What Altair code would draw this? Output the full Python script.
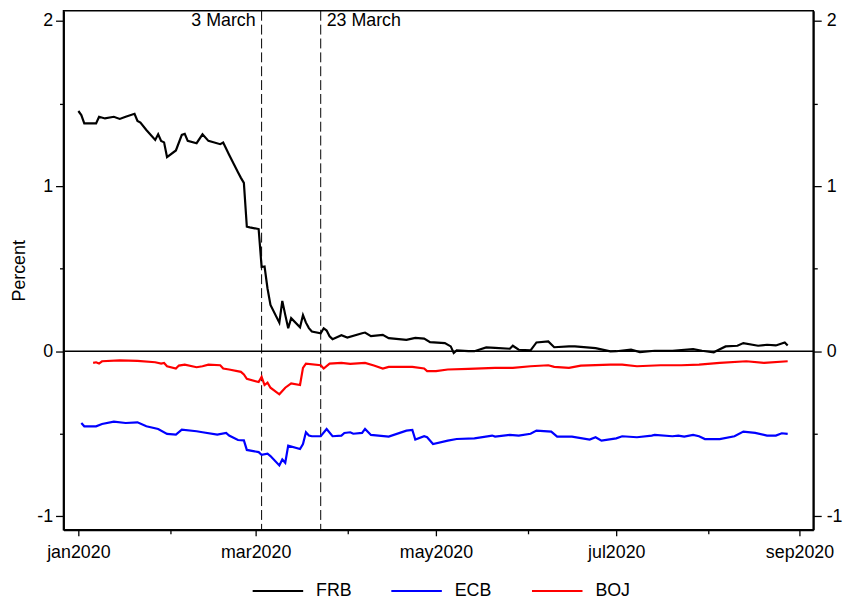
import altair as alt
import pandas as pd

# ---------------- data ----------------
frb_dates = ["2020-01-01", "2020-01-02", "2020-01-03", "2020-01-06", "2020-01-07", "2020-01-08",
             "2020-01-10", "2020-01-13", "2020-01-15", "2020-01-17", "2020-01-20", "2020-01-21",
             "2020-01-22", "2020-01-24", "2020-01-27", "2020-01-28", "2020-01-29", "2020-01-30",
             "2020-01-31", "2020-02-03", "2020-02-05", "2020-02-06", "2020-02-07", "2020-02-10",
             "2020-02-12", "2020-02-14", "2020-02-18", "2020-02-19", "2020-02-21", "2020-02-24",
             "2020-02-25", "2020-02-26", "2020-02-27", "2020-02-28", "2020-03-02", "2020-03-03",
             "2020-03-04", "2020-03-05", "2020-03-06", "2020-03-09", "2020-03-10", "2020-03-11",
             "2020-03-12", "2020-03-13", "2020-03-16", "2020-03-17", "2020-03-18", "2020-03-19",
             "2020-03-20", "2020-03-23", "2020-03-24", "2020-03-25", "2020-03-26", "2020-03-27",
             "2020-03-30", "2020-04-01", "2020-04-06", "2020-04-07", "2020-04-09", "2020-04-13",
             "2020-04-15", "2020-04-21", "2020-04-24", "2020-04-27", "2020-04-29", "2020-05-04",
             "2020-05-06", "2020-05-07", "2020-05-08", "2020-05-12", "2020-05-14", "2020-05-18",
             "2020-05-21", "2020-05-26", "2020-05-27", "2020-05-29", "2020-06-02", "2020-06-04",
             "2020-06-08", "2020-06-10", "2020-06-15", "2020-06-17", "2020-06-24", "2020-06-29",
             "2020-07-01", "2020-07-06", "2020-07-09", "2020-07-14", "2020-07-20", "2020-07-27",
             "2020-07-30", "2020-08-03", "2020-08-04", "2020-08-07", "2020-08-11", "2020-08-13",
             "2020-08-18", "2020-08-21", "2020-08-24", "2020-08-27", "2020-08-28"]
frb_vals = [1.455, 1.43, 1.38, 1.38, 1.38, 1.42,
            1.41, 1.42, 1.407, 1.42, 1.438, 1.395,
            1.385, 1.34, 1.28, 1.314, 1.274, 1.265,
            1.176, 1.216, 1.31, 1.317, 1.274, 1.26,
            1.314, 1.274, 1.254, 1.264, 1.19, 1.084,
            1.05, 1.02, 0.754, 0.75, 0.74, 0.51,
            0.513, 0.38, 0.28, 0.173, 0.305, 0.22,
            0.139, 0.2, 0.145, 0.219, 0.173, 0.14,
            0.119, 0.109, 0.139, 0.125, 0.09, 0.073,
            0.097, 0.083, 0.109, 0.113, 0.091, 0.099,
            0.079, 0.069, 0.081, 0.076, 0.055, 0.049,
            0.029, -0.011, 0.005, 0.0, 0.0, 0.023,
            0.02, 0.015, 0.033, 0.009, 0.005, 0.053,
            0.059, 0.024, 0.029, 0.029, 0.019, -0.001,
            0.0, 0.009, -0.005, 0.003, 0.003, 0.013,
            0.003, -0.007, 0.003, 0.029, 0.033, 0.049,
            0.033, 0.039, 0.035, 0.053, 0.035]

ecb_dates = ["2020-01-02", "2020-01-03", "2020-01-07", "2020-01-09", "2020-01-13", "2020-01-17",
             "2020-01-21", "2020-01-24", "2020-01-28", "2020-01-31", "2020-02-03", "2020-02-05",
             "2020-02-10", "2020-02-12", "2020-02-17", "2020-02-20", "2020-02-21", "2020-02-24",
             "2020-02-26", "2020-02-27", "2020-03-02", "2020-03-03", "2020-03-05", "2020-03-06",
             "2020-03-09", "2020-03-10", "2020-03-11", "2020-03-12", "2020-03-16", "2020-03-17",
             "2020-03-18", "2020-03-19", "2020-03-20", "2020-03-23", "2020-03-25", "2020-03-27",
             "2020-03-30", "2020-03-31", "2020-04-02", "2020-04-03", "2020-04-06", "2020-04-07",
             "2020-04-09", "2020-04-15", "2020-04-21", "2020-04-23", "2020-04-24", "2020-04-27",
             "2020-04-28", "2020-04-30", "2020-05-05", "2020-05-08", "2020-05-14", "2020-05-20",
             "2020-05-21", "2020-05-26", "2020-05-29", "2020-06-02", "2020-06-04", "2020-06-09",
             "2020-06-11", "2020-06-16", "2020-06-22", "2020-06-24", "2020-06-26", "2020-07-01",
             "2020-07-03", "2020-07-08", "2020-07-13", "2020-07-14", "2020-07-20", "2020-07-22",
             "2020-07-24", "2020-07-27", "2020-07-29", "2020-07-31", "2020-08-05", "2020-08-10",
             "2020-08-13", "2020-08-17", "2020-08-21", "2020-08-24", "2020-08-26", "2020-08-28"]
ecb_vals = [-0.435, -0.455, -0.455, -0.441, -0.427, -0.435,
            -0.431, -0.455, -0.471, -0.501, -0.505, -0.475,
            -0.485, -0.491, -0.505, -0.495, -0.511, -0.538,
            -0.54, -0.598, -0.611, -0.627, -0.621, -0.635,
            -0.692, -0.656, -0.676, -0.572, -0.592, -0.562,
            -0.491, -0.511, -0.515, -0.515, -0.471, -0.515,
            -0.511, -0.495, -0.491, -0.5, -0.495, -0.471,
            -0.507, -0.517, -0.481, -0.477, -0.535, -0.515,
            -0.521, -0.562, -0.542, -0.532, -0.528, -0.511,
            -0.517, -0.507, -0.511, -0.5, -0.481, -0.487,
            -0.517, -0.517, -0.535, -0.521, -0.542, -0.528,
            -0.515, -0.521, -0.511, -0.507, -0.515, -0.511,
            -0.517, -0.507, -0.515, -0.532, -0.532, -0.515,
            -0.487, -0.495, -0.511, -0.511, -0.497, -0.501]

boj_dates = ["2020-01-06", "2020-01-07", "2020-01-08", "2020-01-09", "2020-01-15", "2020-01-21",
             "2020-01-27", "2020-01-29", "2020-01-30", "2020-01-31", "2020-02-03", "2020-02-04",
             "2020-02-06", "2020-02-10", "2020-02-12", "2020-02-14", "2020-02-18", "2020-02-19",
             "2020-02-21", "2020-02-25", "2020-02-26", "2020-02-27", "2020-03-02", "2020-03-03",
             "2020-03-04", "2020-03-05", "2020-03-06", "2020-03-09", "2020-03-11", "2020-03-13",
             "2020-03-16", "2020-03-17", "2020-03-18", "2020-03-23", "2020-03-24", "2020-03-26",
             "2020-03-30", "2020-04-02", "2020-04-07", "2020-04-10", "2020-04-13", "2020-04-15",
             "2020-04-23", "2020-04-27", "2020-04-28", "2020-05-01", "2020-05-05", "2020-05-12",
             "2020-05-21", "2020-05-27", "2020-06-02", "2020-06-08", "2020-06-10", "2020-06-15",
             "2020-06-19", "2020-06-29", "2020-07-03", "2020-07-08", "2020-07-16", "2020-07-23",
             "2020-07-29", "2020-08-05", "2020-08-14", "2020-08-20", "2020-08-28"]
boj_vals = [-0.071, -0.067, -0.075, -0.061, -0.055, -0.059,
            -0.067, -0.075, -0.071, -0.091, -0.105, -0.087,
            -0.081, -0.097, -0.091, -0.081, -0.085, -0.105,
            -0.111, -0.125, -0.141, -0.167, -0.187, -0.155,
            -0.205, -0.191, -0.221, -0.261, -0.221, -0.195,
            -0.205, -0.101, -0.075, -0.085, -0.105, -0.075,
            -0.071, -0.077, -0.071, -0.087, -0.105, -0.095,
            -0.095, -0.105, -0.121, -0.121, -0.111, -0.107,
            -0.101, -0.101, -0.091, -0.085, -0.095, -0.101,
            -0.087, -0.081, -0.081, -0.091, -0.085, -0.085,
            -0.081, -0.071, -0.061, -0.071, -0.061]

banks = ["FRB", "ECB", "BOJ"]
bank_colors = ["#000000", "#0000FF", "#FF0000"]

event_dates = ["2020-03-03", "2020-03-23"]
event_labels = ["3 March", "23 March"]

x_major_months = [1, 3, 5, 7, 9]
x_minor_months = [2, 4, 6, 8]
y_major = [-1, 0, 1, 2]
y_minor = [-0.5, 0.5, 1.5]

# ---------------- build tables ----------------
df = pd.concat([
    pd.DataFrame({"date": frb_dates, "value": frb_vals, "bank": "FRB"}),
    pd.DataFrame({"date": ecb_dates, "value": ecb_vals, "bank": "ECB"}),
    pd.DataFrame({"date": boj_dates, "value": boj_vals, "bank": "BOJ"}),
], ignore_index=True)
events = pd.DataFrame({"date": event_dates, "label": event_labels})
zero_df = pd.DataFrame({"v": [0.0]})

FONT = "Liberation Sans"
FS = 18

xs = alt.Scale(domain=[alt.DateTime(year=2019, month=12, date=26, hours=23),
                       alt.DateTime(year=2020, month=9, date=5, hours=16)])
ys = alt.Scale(domain=[-1.082, 2.062], nice=False, zero=False)

common = dict(grid=False, domainColor="black", tickColor="black", labelColor="black",
              labelFont=FONT, labelFontSize=FS, tickWidth=1.3)

x_major_axis = alt.Axis(values=[alt.DateTime(year=2020, month=m, date=1) for m in x_major_months],
                        labelExpr="lower(timeFormat(datum.value, '%b%Y'))",
                        tickSize=6, labelPadding=8, domainWidth=2, labelOverlap=False,
                        labelFlush=False, title=None, orient="bottom", **common)
x_minor_axis = alt.Axis(values=[alt.DateTime(year=2020, month=m, date=1) for m in x_minor_months],
                        tickSize=4, labels=False, domain=False, title=None, orient="bottom", **common)

y_left_major = alt.Axis(values=y_major, labelExpr="'' + datum.value", tickSize=8, labelPadding=3,
                        domainWidth=2, orient="left", title="Percent", titleFont=FONT,
                        titleFontSize=FS, titleFontWeight="normal", titleColor="black",
                        titleAngle=270, titleX=-39, titleY=262, titleAlign="center",
                        titleBaseline="alphabetic", labelOverlap=False, **common)
y_left_minor = alt.Axis(values=y_minor, tickSize=4, labels=False, domain=False, title=None,
                        orient="left", **common)
y_right_major = alt.Axis(values=y_major, labelExpr="'' + datum.value", tickSize=8, labelPadding=5,
                         domainWidth=2, orient="right", title=None, labelOverlap=False, **common)
y_right_minor = alt.Axis(values=y_minor, tickSize=4, labels=False, domain=False, title=None,
                         orient="right", **common)

zero_rule = alt.Chart(zero_df).mark_rule(color="black", strokeWidth=1.4).encode(
    y=alt.Y("v:Q", scale=ys, axis=y_right_major)
)

vrules = alt.Chart(events).mark_rule(color="black", strokeWidth=1, strokeDash=[10, 4]).encode(
    x=alt.X("date:T", scale=xs, axis=x_minor_axis)
)

lines = alt.Chart(df).mark_line(strokeWidth=2.2).encode(
    x=alt.X("date:T", scale=xs, axis=x_major_axis),
    y=alt.Y("value:Q", scale=ys, axis=y_left_major),
    color=alt.Color("bank:N", scale=alt.Scale(domain=banks, range=bank_colors),
                    legend=alt.Legend(orient="none", legendX=190, legendY=559,
                                      direction="horizontal", title=None,
                                      symbolType="stroke", symbolSize=2601,
                                      symbolStrokeWidth=2, labelFont=FONT,
                                      labelFontSize=FS, labelColor="black",
                                      labelOffset=12, columnPadding=36, padding=0)),
)

text_left = alt.Chart(events.iloc[[0]]).mark_text(
    align="right", baseline="middle", dx=-6, font=FONT, fontSize=FS, color="black"
).encode(
    x=alt.X("date:T", scale=xs, axis=None),
    y=alt.YDatum(2.0, scale=ys, axis=y_left_minor),
    text="label:N",
)
text_right = alt.Chart(events.iloc[[1]]).mark_text(
    align="left", baseline="middle", dx=6, font=FONT, fontSize=FS, color="black"
).encode(
    x=alt.X("date:T", scale=xs, axis=None),
    y=alt.YDatum(2.0, scale=ys, axis=y_right_minor),
    text="label:N",
)

chart = alt.layer(zero_rule, vrules, lines, text_left, text_right).resolve_axis(
    x="independent", y="independent"
).properties(
    width=757, height=524,
    autosize=alt.AutoSizeParams(type="none"),
    padding={"left": 56, "top": 0, "right": 31, "bottom": 67},
    background="white",
).configure_view(stroke="black", strokeWidth=1.5)

chart.save("out.html", embed_options={"renderer": "svg", "actions": False})
